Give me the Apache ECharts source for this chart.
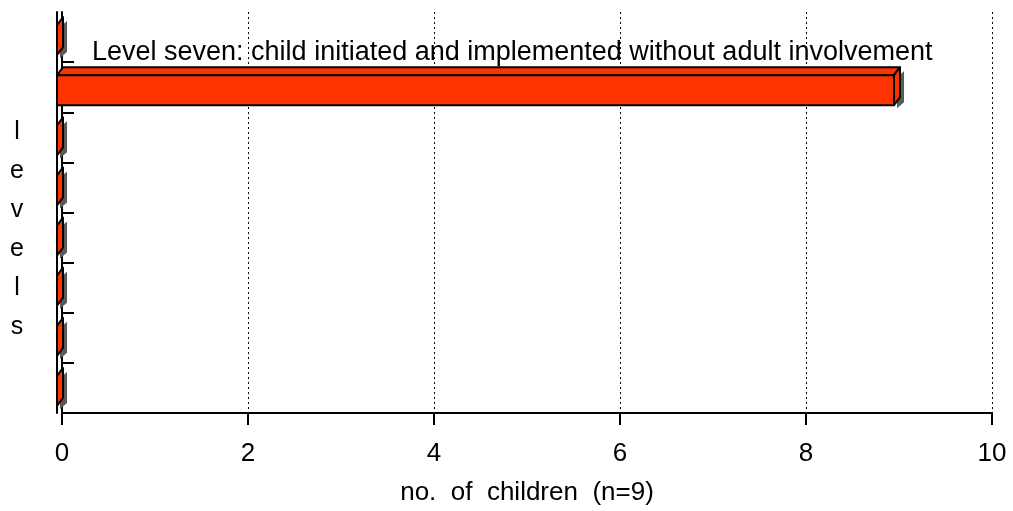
<!DOCTYPE html>
<html>
<head>
<meta charset="utf-8">
<script src="https://cdn.jsdelivr.net/npm/echarts@6/dist/echarts.min.js"></script>
<style>
  html, body { margin: 0; padding: 0; background: #fff; }
  #chart { width: 1013px; height: 511px; }
</style>
</head>
<body>
<div id="chart"></div>
<script>
// Ladder levels, top to bottom
const levels = ['Level eight', 'Level seven', 'Level six', 'Level five',
                'Level four', 'Level three', 'Level two', 'Level one'];
// Number of children at each level
const counts = [0, 9, 0, 0, 0, 0, 0, 0];
// Text shown beside a bar (empty = none)
const barNotes = ['', 'Level seven: child initiated and implemented without adult involvement',
                  '', '', '', '', '', ''];
const xTicks = [0, 2, 4, 6, 8, 10];
const xTitle = 'no.  of  children  (n=9)';
const yTitle = 'levels';

const FONT = '"Liberation Sans", Arial, sans-serif';
const RED = '#ff3300';
const DX = 6, DY = 8; // depth of the 3-D bars

const chart = echarts.init(document.getElementById('chart'), null, { renderer: 'canvas' });

function renderBar(params, api) {
  const cat = api.value(1);
  const v = api.value(0);
  const p0 = api.coord([0, cat]);
  const p1 = api.coord([v, cat]);
  const c = p0[1];
  const fx0 = p0[0] - 5, fx1 = p1[0] - 5;
  const fy0 = c - 12, fy1 = c + 18;
  const line = { stroke: '#000', lineWidth: 2, lineJoin: 'round' };
  const children = [];
  // drop shadow behind the end face
  children.push({
    type: 'polygon',
    shape: { points: [[fx1 + 3, fy0 + 2], [fx1 + DX + 4, fy0 - DY + 4], [fx1 + DX + 4, fy1 - DY + 5], [fx1 + 3, fy1 + 3]] },
    style: { fill: '#5a5a5a' }
  });
  if (fx1 > fx0) {
    children.push({
      type: 'polygon',
      shape: { points: [[fx0, fy0], [fx0 + DX, fy0 - DY], [fx1 + DX, fy0 - DY], [fx1, fy0]] },
      style: Object.assign({ fill: RED }, line)
    });
    children.push({
      type: 'rect',
      shape: { x: fx0, y: fy0, width: fx1 - fx0, height: fy1 - fy0 },
      style: Object.assign({ fill: RED }, line)
    });
  }
  children.push({
    type: 'polygon',
    shape: { points: [[fx1, fy0], [fx1 + DX, fy0 - DY], [fx1 + DX, fy1 - DY], [fx1, fy1]] },
    style: Object.assign({ fill: RED }, line)
  });
  const note = barNotes[params.dataIndex];
  if (note) {
    children.push({
      type: 'text',
      style: {
        text: note, x: fx0 + 35, y: fy0 - 9,
        fill: '#000', font: '27px ' + FONT,
        textAlign: 'left', textVerticalAlign: 'bottom'
      }
    });
  }
  return { type: 'group', children };
}

const option = {
  animation: false,
  backgroundColor: '#fff',
  grid: { left: 62, right: 21, top: 12, bottom: 98, outerBoundsMode: 'none', containLabel: false },
  xAxis: {
    type: 'value', min: xTicks[0], max: xTicks[xTicks.length - 1], interval: 2,
    name: xTitle, nameLocation: 'middle', nameGap: 67,
    nameTextStyle: { fontFamily: FONT, fontSize: 26, color: '#000' },
    axisLine: { show: true, lineStyle: { color: '#000', width: 2 } },
    axisTick: { show: true, length: 12, lineStyle: { color: '#000', width: 2 } },
    axisLabel: { fontFamily: FONT, fontSize: 26, color: '#000', margin: 28 },
    splitLine: { show: true, lineStyle: { color: '#000', width: 1, type: [2, 3] } }
  },
  yAxis: [{
    type: 'category', data: levels, inverse: true,
    axisLine: { show: true, lineStyle: { color: '#000', width: 2 } },
    axisTick: { show: true, inside: true, length: 12, interval: (i) => i > 0,
                lineStyle: { color: '#000', width: 2 } },
    axisLabel: { show: false },
    splitLine: { show: false }
  }, {
    type: 'category', data: levels, inverse: true, position: 'left', offset: 5,
    axisLine: { show: true, lineStyle: { color: '#000', width: 2 } },
    axisTick: { show: false }, axisLabel: { show: false }, splitLine: { show: false }
  }],
  graphic: [{
    type: 'text', left: 10, top: 113,
    style: {
      text: yTitle.split('').join('\n'),
      font: '25px ' + FONT, fill: '#000', lineHeight: 39, textAlign: 'center'
    }
  }],
  series: [{
    type: 'custom',
    renderItem: renderBar,
    encode: { x: 0, y: 1 },
    data: counts.map((v, i) => [v, i]),
    z: 3
  }]
};
chart.setOption(option);
</script>
</body>
</html>
